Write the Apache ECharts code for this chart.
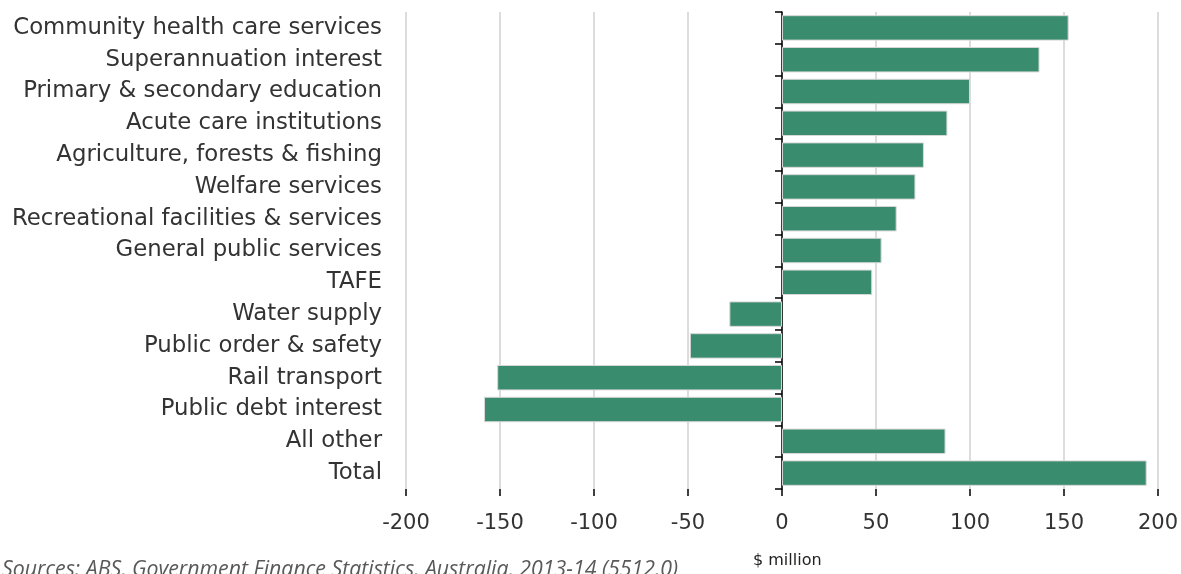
<!DOCTYPE html>
<html><head><meta charset="utf-8">
<script src="https://cdn.jsdelivr.net/npm/echarts@6/dist/echarts.min.js"></script>
<style>html,body{margin:0;padding:0;background:#fff}#c{width:1181px;height:574px}</style>
</head><body><div id="c"></div>
<script>
const categories = ["Community health care services","Superannuation interest","Primary & secondary education","Acute care institutions","Agriculture, forests & fishing","Welfare services","Recreational facilities & services","General public services","TAFE","Water supply","Public order & safety","Rail transport","Public debt interest","All other","Total"];
const values = [152.5, 137, 100, 88, 75.5, 71, 61, 53, 48, -28, -49, -151.5, -158.5, 87, 194];
const xTicks = [-200, -150, -100, -50, 0, 50, 100, 150, 200];
const xUnit = "$ million";
const source = "Sources: ABS, Government Finance Statistics, Australia, 2013-14 (5512.0)";

const chart = echarts.init(document.getElementById('c'), null, {renderer:'canvas'});
const labelFont = 'DejaVu Sans';
chart.setOption({
  animation:false,
  grid:{left:406, right:22, top:12, bottom:85},
  xAxis:{
    type:'value', min:xTicks[0], max:xTicks[xTicks.length-1], interval:50,
    axisLine:{onZero:false, lineStyle:{color:'#000', width:1.5}},
    axisTick:{show:true, length:7, lineStyle:{color:'#000', width:1.5}},
    axisLabel:{margin:24, fontSize:21, color:'#333', fontFamily:labelFont},
    splitLine:{show:true, lineStyle:{color:'#dcdcdc', width:2}}
  },
  yAxis:[{
    type:'category', data:categories, inverse:true,
    axisLine:{show:false, onZero:false}, axisTick:{show:false},
    axisLabel:{margin:24, fontSize:22.8, color:'#333', fontFamily:labelFont}
  },{
    type:'category', data:categories, inverse:true, position:'left',
    axisLine:{show:true, onZero:true, lineStyle:{color:'#000', width:1.5}},
    axisTick:{show:true, length:7, lineStyle:{color:'#000', width:1.5}},
    axisLabel:{show:false}
  }],
  series:[{
    type:'bar', data:values, yAxisIndex:0, barCategoryGap:'20%',
    itemStyle:{color:'#3a8c6e', borderColor:'#d8d8d8', borderWidth:1}
  }],
  graphic:[
    {type:'text', left:753, top:553, style:{text:xUnit, fontSize:16, fill:'#222', fontFamily:labelFont}},
    {type:'text', left:2, top:559, style:{text:source, fontSize:21.3, fontStyle:'italic', fill:'#595959', fontFamily:'Open Sans'}}
  ]
});
</script></body></html>
